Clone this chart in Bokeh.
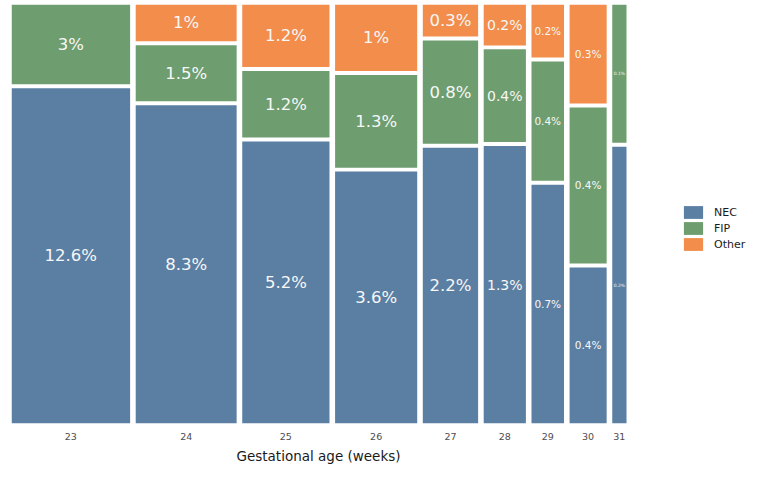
import numpy as np
from bokeh.plotting import figure
from bokeh.models import ColumnDataSource, Range1d, FixedTicker, Legend, LegendItem, Title
from bokeh.core.properties import value
from bokeh.embed import file_html
from bokeh.resources import INLINE

# ---- data ----
weeks = ["23", "24", "25", "26", "27", "28", "29", "30", "31"]
infants = [208, 177, 153, 144, 97, 74, 57, 65, 25]          # column widths (relative)
nec = [12.6, 8.3, 5.24, 3.64, 2.24, 1.29, 0.72, 0.41, 0.2]   # % NEC
fip = [3.0, 1.46, 1.24, 1.34, 0.84, 0.43, 0.36, 0.41, 0.1]   # % FIP
other = [0.0, 0.96, 1.16, 0.96, 0.26, 0.19, 0.16, 0.26, 0.0] # % Other
categories = ["NEC", "FIP", "Other"]

# ---- style ----
colors = ["#5b7fa3", "#6e9e6f", "#f28d4b"]
label_px = [16.5, 16.5, 16.5, 16.5, 16.5, 14, 10.5, 10.5, 4.5]
FONT = "DejaVu Sans"
gap_x = 9.8
gap_y = 0.0095
MOSAIC_PX = 615
FRAME_PX = 751

n = np.array(infants, float)
left = np.concatenate([[0.0], np.cumsum(n + gap_x)[:-1]])
right = left + n
centers = (left + right) / 2

vals = np.array([nec, fip, other], float)
k = (vals > 0).sum(axis=0)
shares = vals / vals.sum(axis=0)
usable = 1 - (k - 1) * gap_y
heights = shares * usable
bottoms = np.zeros_like(heights)
cur = np.zeros(len(weeks))
for i in range(3):
    bottoms[i] = cur
    cur = cur + heights[i] + np.where(vals[i] > 0, gap_y, 0)
tops = bottoms + heights


def fmt(v):
    s = f"{v:.1f}"
    if s.endswith(".0"):
        s = s[:-2]
    return s + "%"


x_end = right[-1] * FRAME_PX / MOSAIC_PX
p = figure(frame_width=FRAME_PX, frame_height=419, output_backend="svg",
           toolbar_location=None, x_range=Range1d(0, x_end), y_range=Range1d(0, 1),
           y_axis_location=None, min_border_left=11, min_border_right=0,
           min_border_top=4, min_border_bottom=0)
p.outline_line_color = None
p.xgrid.visible = False
p.ygrid.visible = False
p.background_fill_color = "white"

items = []
tx, ty, tt, ts = [], [], [], []
for i, cat in enumerate(categories):
    m = vals[i] > 0
    src = ColumnDataSource(dict(left=left[m], right=right[m], bottom=bottoms[i][m], top=tops[i][m]))
    r = p.quad(left="left", right="right", bottom="bottom", top="top", source=src,
               fill_color=colors[i], line_color=None)
    items.append(LegendItem(label=cat, renderers=[r]))
    for j in np.where(m)[0]:
        tx.append(centers[j])
        ty.append((bottoms[i][j] + tops[i][j]) / 2)
        tt.append(fmt(vals[i][j]))
        ts.append(f"{label_px[j]}px")

tsrc = ColumnDataSource(dict(x=tx, y=ty, text=tt, size=ts))
p.text(x="x", y="y", text="text", source=tsrc, text_font=value(FONT), text_font_size="size",
       text_color="#f7f7f7", text_align="center", text_baseline="middle")

ax = p.xaxis[0]
ax.ticker = FixedTicker(ticks=list(centers))
ax.major_label_overrides = {float(c): w for c, w in zip(centers, weeks)}
ax.axis_line_color = None
ax.major_tick_line_color = None
ax.minor_tick_line_color = None
ax.major_tick_out = 0
ax.major_tick_in = 0
ax.major_label_text_font = FONT
ax.major_label_text_font_size = "9.5px"
ax.major_label_text_color = "#4d4d4d"
ax.major_label_standoff = 9

# axis title placed under the mosaic (not under the legend area)
title = Title(text="Gestational age (weeks)", align="left", offset=225,
              text_font=FONT, text_font_size="13.5px", text_font_style="normal",
              text_color="#1a1a1a", standoff=6)
p.add_layout(title, "below")

legend = Legend(items=items, location=(670, 171), orientation="vertical",
                glyph_width=24, glyph_height=16, label_height=16, spacing=0,
                padding=0, margin=0, label_standoff=9,
                label_text_font=FONT, label_text_font_size="11px", label_text_color="#1a1a1a",
                border_line_color=None, background_fill_alpha=0)
p.add_layout(legend, "center")

open("out.html", "w").write(file_html(p, INLINE))
